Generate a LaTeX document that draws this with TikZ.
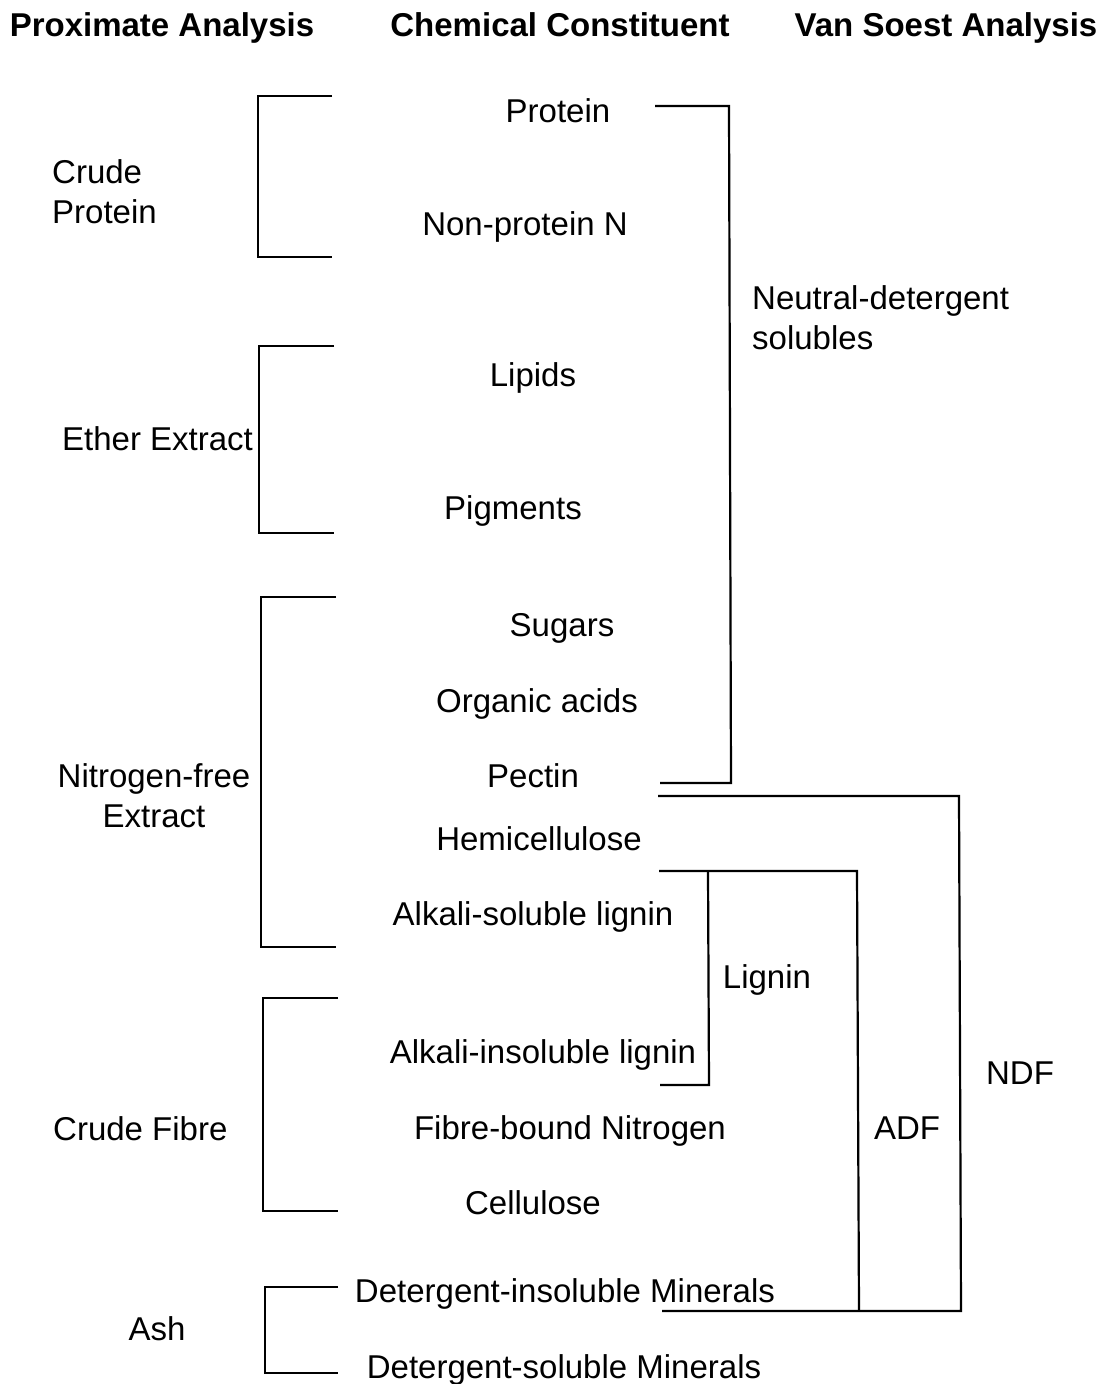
\documentclass[tikz,border=0pt]{standalone}
\usepackage{fontspec}
\setmainfont{Liberation Sans}
\begin{document}
\begin{tikzpicture}[x=1pt,y=-1pt,
  txt/.style={font=\fontsize{33}{40}\selectfont, inner sep=0pt, anchor=base},
  lbl/.style={font=\fontsize{33}{40}\selectfont, inner sep=0pt},
  hdr/.style={font=\bfseries\fontsize{33}{40}\selectfont, inner sep=0pt, anchor=base},
  brk/.style={line width=2.2pt, line join=miter}]
\useasboundingbox (0,0) rectangle (1110,1384);
% headers
\node[hdr] (h1) at (162,36) {Proximate Analysis};
\node[hdr] (h2) at (560,36) {Chemical Constituent};
\node[hdr] (h3) at (946,36) {Van Soest Analysis};
% left labels
\node[lbl, align=left, anchor=west] (cp) at (52,192) {Crude\\Protein};
\node[txt, anchor=base west] (ee) at (62,450) {Ether Extract};
\node[lbl, align=center] (nfe) at (154,796) {Nitrogen-free\\Extract};
\node[txt, anchor=base west] (cf) at (53,1140) {Crude Fibre};
\node[txt] (ash) at (157,1340) {Ash};
% chemical constituents
\node[txt] (prot) at (558,122) {Protein};
\node[txt] (npn) at (525,235) {Non-protein N};
\node[txt] (lip) at (533,386) {Lipids};
\node[txt] (pig) at (513,519) {Pigments};
\node[txt] (sug) at (562,636) {Sugars};
\node[txt] (oa) at (537,712) {Organic acids};
\node[txt] (pec) at (533,787) {Pectin};
\node[txt] (hem) at (539,850) {Hemicellulose};
\node[txt] (asl) at (533,925) {Alkali-soluble lignin};
\node[txt] (ail) at (543,1063) {Alkali-insoluble lignin};
\node[txt] (fbn) at (570,1139) {Fibre-bound Nitrogen};
\node[txt] (cel) at (533,1214) {Cellulose};
\node[txt] (dim) at (565,1302) {Detergent-insoluble Minerals};
\node[txt] (dsm) at (564,1378) {Detergent-soluble Minerals};
% van soest labels
\node[lbl, align=left, anchor=west] (nds) at (752,318) {Neutral-detergent\\solubles};
\node[txt] (lig) at (767,988) {Lignin};
\node[txt] (adf) at (907,1139) {ADF};
\node[txt] (ndf) at (1020,1084) {NDF};
% left bracket coordinates
\coordinate (cpT) at (332,96);  \coordinate (cpB) at (332,257);
\coordinate (eeT) at (334,346); \coordinate (eeB) at (334,533);
\coordinate (nfT) at (336,597); \coordinate (nfB) at (336,947);
\coordinate (cfT) at (338,998); \coordinate (cfB) at (338,1211);
\coordinate (asT) at (338,1287); \coordinate (asB) at (338,1373);
\draw[brk] (cpT) -| (258,176) |- (cpB);
\draw[brk] (eeT) -| (259,440) |- (eeB);
\draw[brk] (nfT) -| (261,770) |- (nfB);
\draw[brk] (cfT) -| (263,1100) |- (cfB);
\draw[brk] (asT) -| (265,1330) |- (asB);
% right brackets
\coordinate (ndsT) at (655,106); \coordinate (ndsB) at (660,783);
\draw[brk] (ndsT) -- (729,106) -- (731,783) -- (ndsB);
\coordinate (ndfT) at (658,796); \coordinate (ndfB) at (662,1311);
\draw[brk] (ndfT) -- (959,796) -- (961,1311) -- (ndfB);
\coordinate (adfT) at (659,871); \coordinate (adfB) at (859,1311);
\draw[brk] (adfT) -- (857,871) -- (adfB);
\coordinate (ligT) at (708,871); \coordinate (ligB) at (660,1085);
\draw[brk] (ligT) -- (709,1085) -- (ligB);
\end{tikzpicture}
\end{document}
